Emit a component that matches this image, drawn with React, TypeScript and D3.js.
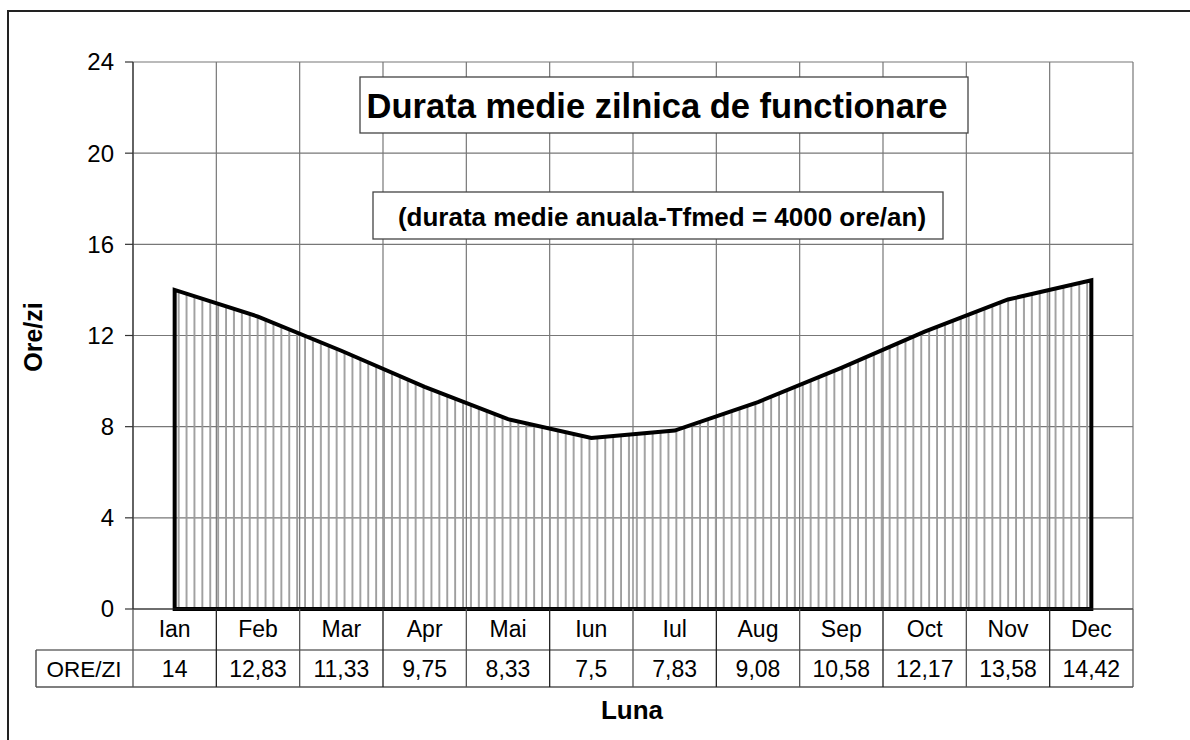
import React from "react";
import * as d3 from "d3";

const months = ["Ian", "Feb", "Mar", "Apr", "Mai", "Iun", "Iul", "Aug", "Sep", "Oct", "Nov", "Dec"];
const oreZi = [14, 12.83, 11.33, 9.75, 8.33, 7.5, 7.83, 9.08, 10.58, 12.17, 13.58, 14.42];
const valueLabels = ["14", "12,83", "11,33", "9,75", "8,33", "7,5", "7,83", "9,08", "10,58", "12,17", "13,58", "14,42"];
const yTicks = [0, 4, 8, 12, 16, 20, 24];
const rowLabel = "ORE/ZI";
const title = "Durata medie zilnica de functionare";
const subtitle = "(durata medie anuala-Tfmed = 4000 ore/an)";
const yTitle = "Ore/zi";
const xTitle = "Luna";

export default function App() {
  const L = 133, R = 1133, T = 62, B = 609;
  const x = d3.scaleBand<string>().domain(months).range([L, R]).paddingInner(0).paddingOuter(0);
  const y = d3.scaleLinear().domain([0, 24]).range([B, T]);
  const cx = (i: number) => (x(months[i]) as number) + x.bandwidth() / 2;
  const pts: [number, number][] = oreZi.map((v, i) => [cx(i), v]);
  const area = d3.area<[number, number]>().x((d) => d[0]).y0(y(0)).y1((d) => y(d[1]));
  const outline =
    `M${cx(0)},${y(0)}` +
    pts.map((p) => `L${p[0]},${y(p[1])}`).join("") +
    `L${cx(11)},${y(0)}Z`;
  const boundaries = months.map((m) => x(m) as number).concat([R]);
  const row1Top = B, row1Bot = 650, row2Bot = 687, tableLeft = 36;
  const font = "'Liberation Sans', Arial, sans-serif";
  const grid = "#777";
  return (
    <svg width={1190} height={740} style={{ position: "absolute", left: 0, top: 0 }} fontFamily={font}>
      <defs>
        <pattern id="hatch" patternUnits="userSpaceOnUse" width={7.9} height={10} x={cx(0)}>
          <line x1={4} y1={0} x2={4} y2={10} stroke="#999" strokeWidth={1.8} />
        </pattern>
      </defs>
      <rect x={0} y={0} width={1190} height={740} fill="#fff" />
      <rect x={8} y={11} width={1200} height={760} fill="none" stroke="#222" strokeWidth={2} />
      {/* gridlines */}
      {yTicks.map((t) => (
        <line key={"h" + t} x1={L} x2={R} y1={y(t)} y2={y(t)} stroke={grid} strokeWidth={1.2} />
      ))}
      {boundaries.map((b, i) => (
        <line key={"v" + i} x1={b} x2={b} y1={T} y2={B} stroke={grid} strokeWidth={1.2} />
      ))}
      {/* y axis */}
      <line x1={L} x2={L} y1={T} y2={B} stroke="#333" strokeWidth={1.2} />
      {yTicks.map((t) => (
        <g key={"t" + t}>
          <line x1={L - 8} x2={L} y1={y(t)} y2={y(t)} stroke="#333" strokeWidth={1.2} />
          <text x={114} y={y(t)} dy="0.35em" textAnchor="end" fontSize={24} fill="#000">{t}</text>
        </g>
      ))}
      {/* area */}
      <path d={area(pts) || ""} fill="url(#hatch)" />
      <path d={outline} fill="none" stroke="#000" strokeWidth={4} strokeLinejoin="miter" />
      <line x1={L} x2={R} y1={B} y2={B} stroke="#222" strokeWidth={1.2} />
      {/* table */}
      <line x1={L} x2={R} y1={row1Bot} y2={row1Bot} stroke="#222" strokeWidth={1.2} />
      <line x1={tableLeft} x2={R} y1={row2Bot} y2={row2Bot} stroke="#555" strokeWidth={1.5} />
      <line x1={tableLeft} x2={L} y1={row1Bot} y2={row1Bot} stroke="#222" strokeWidth={1.2} />
      <line x1={tableLeft} x2={tableLeft} y1={row1Bot} y2={row2Bot} stroke="#555" strokeWidth={1.5} />
      {boundaries.map((b, i) => (
        <line key={"tv" + i} x1={b} x2={b} y1={row1Top} y2={row2Bot} stroke={i % 2 === 0 ? "#555" : "#222"} strokeWidth={1.3} />
      ))}
      {months.map((m, i) => (
        <text key={"m" + m} x={cx(i)} y={629} dy="0.35em" textAnchor="middle" fontSize={23} fill="#000">{m}</text>
      ))}
      {valueLabels.map((v, i) => (
        <text key={"val" + i} x={cx(i)} y={669} dy="0.35em" textAnchor="middle" fontSize={23} fill="#000">{v}</text>
      ))}
      <text x={84} y={669} dy="0.35em" textAnchor="middle" fontSize={22.5} fill="#000">{rowLabel}</text>
      {/* axis titles */}
      <text transform={`translate(42,337) rotate(-90)`} textAnchor="middle" fontSize={25} fontWeight="bold" fill="#000">{yTitle}</text>
      <text x={632} y={719} textAnchor="middle" fontSize={26} fontWeight="bold" fill="#000">{xTitle}</text>
      {/* title boxes */}
      <rect x={360} y={77} width={608} height={56} fill="#fff" stroke="#444" strokeWidth={1.3} />
      <text x={657} y={106} dy="0.35em" textAnchor="middle" fontSize={34.5} fontWeight="bold" fill="#000">{title}</text>
      <rect x={373} y={192} width={570} height={47} fill="#fff" stroke="#444" strokeWidth={1.3} />
      <text x={662} y={217} dy="0.35em" textAnchor="middle" fontSize={26} fontWeight="bold" fill="#000">{subtitle}</text>
    </svg>
  );
}
